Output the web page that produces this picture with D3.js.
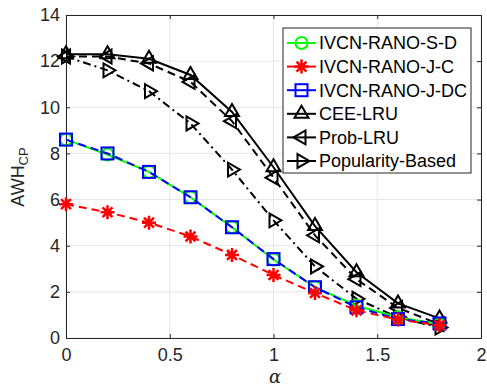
<!DOCTYPE html>
<html><head><meta charset="utf-8">
<script src="https://cdn.jsdelivr.net/npm/d3@7"></script>
<style>body{margin:0;background:#fff}svg{display:block}</style>
</head><body>
<svg id="c" width="487" height="387"></svg>
<script>
const alphas = [0, 0.2, 0.4, 0.6, 0.8, 1.0, 1.2, 1.4, 1.6, 1.8];
const sd   = [8.6, 7.95, 7.2, 6.1, 4.8, 3.4, 2.2, 1.4, 0.9, 0.6];
const jc   = [5.8, 5.45, 5.0, 4.4, 3.6, 2.73, 1.95, 1.2, 0.8, 0.55];
const jdc  = [8.6, 8.0, 7.2, 6.1, 4.8, 3.42, 2.2, 1.33, 0.82, 0.63];
const cee  = [12.3, 12.3, 12.1, 11.4, 9.8, 7.4, 4.85, 2.85, 1.5, 0.85];
const prob = [12.2, 12.2, 11.9, 11.1, 9.4, 6.95, 4.45, 2.55, 1.3, 0.6];
const pop  = [12.2, 11.6, 10.7, 9.3, 7.3, 5.1, 3.1, 1.7, 0.9, 0.45];
const names = ["IVCN-RANO-S-D","IVCN-RANO-J-C","IVCN-RANO-J-DC","CEE-LRU","Prob-LRU","Popularity-Based"];
const xTicks = [0, 0.5, 1, 1.5, 2];
const yTicks = [0, 2, 4, 6, 8, 10, 12, 14];

const series = [
  {name:names[0], v:sd,   color:"#00ff00", dash:null,        marker:"circle"},
  {name:names[1], v:jc,   color:"#ff0000", dash:"8,5",       marker:"star"},
  {name:names[2], v:jdc,  color:"#0000ff", dash:"8,5",       marker:"square"},
  {name:names[3], v:cee,  color:"#000000", dash:null,        marker:"up"},
  {name:names[4], v:prob, color:"#000000", dash:"8,5",       marker:"left"},
  {name:names[5], v:pop,  color:"#000000", dash:"8,4,2,4",   marker:"right"}
];

const svg = d3.select("#c");
const L=66, R=481, T=15, B=338;
const x = d3.scaleLinear().domain([0,2]).range([L,R]);
const y = d3.scaleLinear().domain([0,14]).range([B,T]);
const font = "'Liberation Sans', Arial, sans-serif";
const fs = "18px";

// grid
const g = svg.append("g");
g.selectAll(".gx").data(xTicks).enter().append("line")
  .attr("x1",d=>x(d)).attr("x2",d=>x(d)).attr("y1",T).attr("y2",B)
  .attr("stroke","#e6e6e6").attr("stroke-width",1);
g.selectAll(".gy").data(yTicks).enter().append("line")
  .attr("x1",L).attr("x2",R).attr("y1",d=>y(d)).attr("y2",d=>y(d))
  .attr("stroke","#e6e6e6").attr("stroke-width",1);

// axes
const ax = svg.append("g").attr("transform",`translate(0,${B})`)
  .call(d3.axisBottom(x).tickValues(xTicks).tickSizeInner(-4).tickSizeOuter(0).tickPadding(10).tickFormat(d3.format("")));
const ay = svg.append("g").attr("transform",`translate(${L},0)`)
  .call(d3.axisLeft(y).tickValues(yTicks).tickSizeInner(-4).tickSizeOuter(0).tickPadding(6));
const axT = svg.append("g").attr("transform",`translate(0,${T})`)
  .call(d3.axisTop(x).tickValues(xTicks).tickSizeInner(-4).tickSizeOuter(0).tickFormat(""));
const ayR = svg.append("g").attr("transform",`translate(${R},0)`)
  .call(d3.axisRight(y).tickValues(yTicks).tickSizeInner(-4).tickSizeOuter(0).tickFormat(""));
[ax,ay,axT,ayR].forEach(a=>{
  a.selectAll("path,line").attr("stroke","#262626");
  a.selectAll("text").attr("fill","#262626").style("font-family",font).style("font-size",fs);
});

function drawMarker(sel, type, color, cx, cy){
  const s = 7;
  if(type==="circle"){
    sel.append("circle").attr("cx",cx).attr("cy",cy).attr("r",6).attr("fill","none").attr("stroke",color).attr("stroke-width",2);
  } else if(type==="square"){
    sel.append("rect").attr("x",cx-6).attr("y",cy-6).attr("width",12).attr("height",12).attr("fill","none").attr("stroke",color).attr("stroke-width",2);
  } else if(type==="star"){
    const p = d3.path();
    for(let i=0;i<4;i++){
      const a = i*Math.PI/4;
      p.moveTo(cx+Math.cos(a)*s, cy+Math.sin(a)*s);
      p.lineTo(cx-Math.cos(a)*s, cy-Math.sin(a)*s);
    }
    sel.append("path").attr("d",p.toString()).attr("stroke",color).attr("stroke-width",2.5).attr("fill","none");
  } else {
    let pts;
    const r = 8;
    if(type==="up") pts=[[cx,cy-r],[cx+r*0.87,cy+r*0.5],[cx-r*0.87,cy+r*0.5]];
    if(type==="left") pts=[[cx-r,cy],[cx+r*0.5,cy-r*0.87],[cx+r*0.5,cy+r*0.87]];
    if(type==="right") pts=[[cx+r,cy],[cx-r*0.5,cy-r*0.87],[cx-r*0.5,cy+r*0.87]];
    sel.append("polygon").attr("points",pts.map(p=>p.join(",")).join(" ")).attr("fill","none").attr("stroke",color).attr("stroke-width",2);
  }
}

const line = d3.line().x((d,i)=>x(alphas[i])).y(d=>y(d));
const order = [3,4,5,0,2,1];
order.forEach(k=>{
  const s = series[k];
  const gg = svg.append("g");
  gg.append("path").attr("d",line(s.v)).attr("fill","none").attr("stroke",s.color).attr("stroke-width",2)
    .attr("stroke-dasharray",s.dash);
  s.v.forEach((v,i)=>drawMarker(gg,s.marker,s.color,x(alphas[i]),y(v)));
});

// legend
const lg = svg.append("g");
lg.append("rect").attr("x",283).attr("y",28).attr("width",188).attr("height",145)
  .attr("fill","#fff").attr("stroke","#262626").attr("stroke-width",1);
series.forEach((s,i)=>{
  const cy = 43 + i*23.6;
  lg.append("line").attr("x1",287).attr("x2",316).attr("y1",cy).attr("y2",cy)
    .attr("stroke",s.color).attr("stroke-width",2);
  drawMarker(lg,s.marker,s.color,301.5,cy);
  lg.append("text").attr("x",319).attr("y",cy).attr("dy","0.36em").text(s.name)
    .style("font-family",font).style("font-size",fs).attr("fill","#000");
});

// axis labels
svg.append("text").attr("x",275).attr("y",383).attr("text-anchor","middle")
  .style("font-family","'DejaVu Serif','Liberation Serif',serif").style("font-style","italic").style("font-size","18px")
  .attr("fill","#262626").text("α");
const yl = svg.append("text").attr("transform","translate(24,177) rotate(-90)").attr("text-anchor","middle")
  .style("font-family",font).style("font-size",fs).attr("fill","#262626");
yl.append("tspan").text("AWH");
yl.append("tspan").attr("baseline-shift","-30%").style("font-size","13px").text("CP");
</script>
</body></html>
